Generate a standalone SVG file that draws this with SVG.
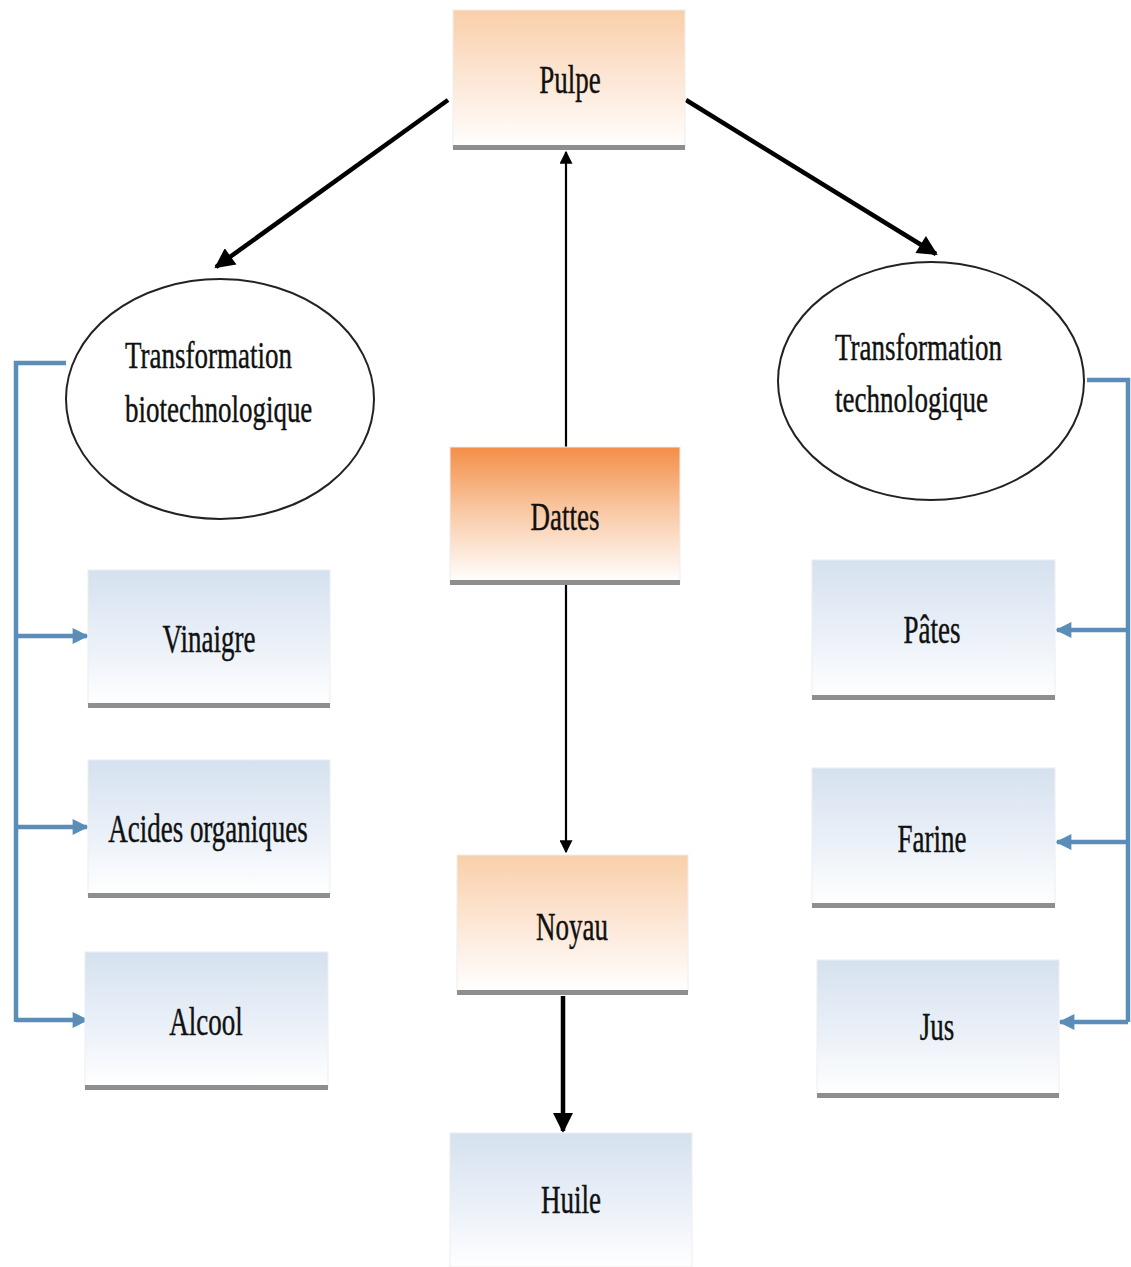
<svg xmlns="http://www.w3.org/2000/svg" width="1131" height="1267" viewBox="0 0 1131 1267">
<defs>
<linearGradient id="peach" x1="0" y1="0" x2="0" y2="1">
<stop offset="0" stop-color="#f9cfa9"/>
<stop offset="0.55" stop-color="#fde9da"/>
<stop offset="1" stop-color="#ffffff"/>
</linearGradient>
<linearGradient id="orange" x1="0" y1="0" x2="0" y2="1">
<stop offset="0" stop-color="#f38e47"/>
<stop offset="0.45" stop-color="#f9c6a0"/>
<stop offset="1" stop-color="#ffffff"/>
</linearGradient>
<linearGradient id="blue" x1="0" y1="0" x2="0" y2="1">
<stop offset="0" stop-color="#d5e1ef"/>
<stop offset="0.6" stop-color="#edf2f9"/>
<stop offset="1" stop-color="#ffffff"/>
</linearGradient>
<marker id="ahBlack" viewBox="0 0 10 10" refX="9" refY="5" markerWidth="22" markerHeight="20" markerUnits="userSpaceOnUse" orient="auto">
<path d="M0,0 L10,5 L0,10 z" fill="#000"/>
</marker>
<marker id="ahThin" viewBox="0 0 10 10" refX="9" refY="5" markerWidth="15" markerHeight="13" markerUnits="userSpaceOnUse" orient="auto">
<path d="M0,0 L10,5 L0,10 z" fill="#000"/>
</marker>
<marker id="ahBlue" viewBox="0 0 10 10" refX="9" refY="5" markerWidth="18" markerHeight="16" markerUnits="userSpaceOnUse" orient="auto">
<path d="M0,0 L10,5 L0,10 z" fill="#5a8db8"/>
</marker>
</defs>
<style>
.lbl{font-family:"Liberation Serif","Times New Roman",serif;font-size:27px;fill:#111111;stroke:#111111;stroke-width:0.3;}
.bar{fill:#8e8e8e;}
.edge{stroke:#eeeeee;stroke-width:1;}
.ell{fill:#ffffff;stroke:#222;stroke-width:2;}
.thick{stroke:#000;stroke-width:4.5;fill:none;}
.thin{stroke:#000;stroke-width:2.2;fill:none;}
.bl{stroke:#5a8db8;stroke-width:4.5;fill:none;}
</style>
<rect width="1131" height="1267" fill="#ffffff"/>

<g id="connectors">
<line class="thick" x1="448" y1="100" x2="216" y2="267" marker-end="url(#ahBlack)"/>
<line class="thick" x1="686" y1="100" x2="936" y2="254" marker-end="url(#ahBlack)"/>
<line class="thin" x1="566" y1="447" x2="566" y2="152" marker-end="url(#ahThin)"/>
<line class="thin" x1="566" y1="585" x2="566" y2="852" marker-end="url(#ahThin)"/>
<line class="thick" x1="563" y1="996" x2="563" y2="1131" marker-end="url(#ahBlack)"/>
<polyline class="bl" points="66,363 16,363 16,1022"/>
<line class="bl" x1="14" y1="636" x2="87" y2="636" marker-end="url(#ahBlue)"/>
<line class="bl" x1="14" y1="827" x2="87" y2="827" marker-end="url(#ahBlue)"/>
<polyline class="bl" points="16,1020 87,1020" marker-end="url(#ahBlue)"/>
<polyline class="bl" points="1087,380 1128,380 1128,1022"/>
<line class="bl" x1="1130" y1="630" x2="1057" y2="630" marker-end="url(#ahBlue)"/>
<line class="bl" x1="1130" y1="842" x2="1057" y2="842" marker-end="url(#ahBlue)"/>
<polyline class="bl" points="1128,1022 1060,1022" marker-end="url(#ahBlue)"/>
</g>

<g id="pulpe">
<rect class="edge" x="453" y="10" width="232" height="138" fill="url(#peach)"/>
<rect class="bar" x="453" y="145" width="232" height="5"/>
<text class="lbl" text-anchor="middle" transform="translate(570,93) scale(1,1.45)">Pulpe</text>
</g>

<g id="transformation-bio">
<ellipse class="ell" cx="220" cy="399" rx="154" ry="120"/>
<text class="lbl" transform="translate(125,368) scale(1,1.4)">Transformation</text>
<text class="lbl" transform="translate(125,422) scale(1,1.4)">biotechnologique</text>
</g>

<g id="transformation-tech">
<ellipse class="ell" cx="931" cy="381" rx="153" ry="119"/>
<text class="lbl" transform="translate(835,360) scale(1,1.4)">Transformation</text>
<text class="lbl" transform="translate(835,412) scale(1,1.4)">technologique</text>
</g>

<g id="dattes">
<rect class="edge" x="450" y="447" width="230" height="135" fill="url(#orange)"/>
<rect class="bar" x="450" y="580" width="230" height="5"/>
<text class="lbl" text-anchor="middle" transform="translate(565,530) scale(1,1.45)">Dattes</text>
</g>

<g id="noyau">
<rect class="edge" x="457" y="855" width="231" height="137" fill="url(#peach)"/>
<rect class="bar" x="457" y="990" width="231" height="5"/>
<text class="lbl" text-anchor="middle" transform="translate(572,940) scale(1,1.45)">Noyau</text>
</g>

<g id="huile">
<rect class="edge" x="450" y="1133" width="242" height="134" fill="url(#blue)"/>
<text class="lbl" text-anchor="middle" transform="translate(571,1213) scale(1,1.45)">Huile</text>
</g>

<g id="vinaigre">
<rect class="edge" x="88" y="570" width="242" height="135" fill="url(#blue)"/>
<rect class="bar" x="88" y="703" width="242" height="5"/>
<text class="lbl" text-anchor="middle" transform="translate(209,652) scale(1,1.45)">Vinaigre</text>
</g>

<g id="acides-organiques">
<rect class="edge" x="88" y="760" width="242" height="135" fill="url(#blue)"/>
<rect class="bar" x="88" y="893" width="242" height="5"/>
<text class="lbl" text-anchor="middle" transform="translate(208,842) scale(1,1.45)">Acides organiques</text>
</g>

<g id="alcool">
<rect class="edge" x="85" y="952" width="243" height="135" fill="url(#blue)"/>
<rect class="bar" x="85" y="1085" width="243" height="5"/>
<text class="lbl" text-anchor="middle" transform="translate(206,1035) scale(1,1.45)">Alcool</text>
</g>

<g id="pates">
<rect class="edge" x="812" y="560" width="243" height="137" fill="url(#blue)"/>
<rect class="bar" x="812" y="695" width="243" height="5"/>
<text class="lbl" text-anchor="middle" transform="translate(932,643) scale(1,1.45)">Pâtes</text>
</g>

<g id="farine">
<rect class="edge" x="812" y="768" width="243" height="137" fill="url(#blue)"/>
<rect class="bar" x="812" y="903" width="243" height="5"/>
<text class="lbl" text-anchor="middle" transform="translate(932,852) scale(1,1.45)">Farine</text>
</g>

<g id="jus">
<rect class="edge" x="817" y="960" width="242" height="135" fill="url(#blue)"/>
<rect class="bar" x="817" y="1093" width="242" height="5"/>
<text class="lbl" text-anchor="middle" transform="translate(937,1040) scale(1,1.45)">Jus</text>
</g>
</svg>
